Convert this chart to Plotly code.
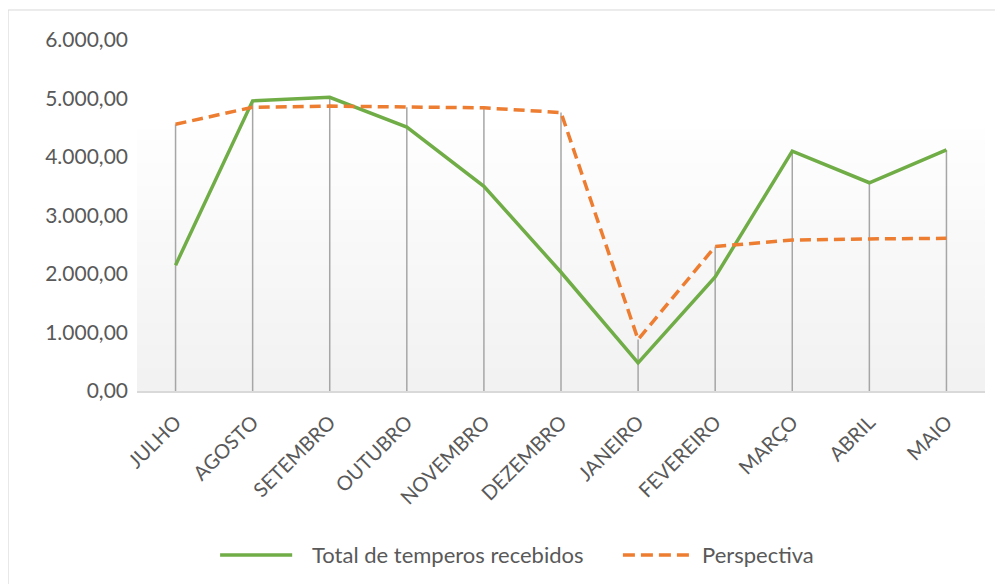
import plotly.graph_objects as go

meses = ['JULHO', 'AGOSTO', 'SETEMBRO', 'OUTUBRO', 'NOVEMBRO', 'DEZEMBRO',
         'JANEIRO', 'FEVEREIRO', 'MARÇO', 'ABRIL', 'MAIO']
total_recebidos = [2150, 4960, 5020, 4510, 3500, 2030, 480, 1950, 4100, 3560, 4120]
perspectiva = [4560, 4850, 4870, 4850, 4840, 4760, 880, 2470, 2580, 2600, 2610]

nome_total = 'Total de temperos recebidos'
nome_persp = 'Perspectiva'
verde = '#70ad47'
laranja = '#ed7d31'

fig = go.Figure()

# drop lines from the highest point down to the axis
drop_x, drop_y = [], []
for m, a, b in zip(meses, total_recebidos, perspectiva):
    drop_x += [m, m, None]
    drop_y += [0, max(a, b), None]
fig.add_trace(go.Scatter(x=drop_x, y=drop_y, mode='lines',
                         line=dict(color='#a6a6a6', width=1.5),
                         showlegend=False, hoverinfo='skip'))

fig.add_trace(go.Scatter(x=meses, y=total_recebidos, mode='lines',
                         name=nome_total, showlegend=False,
                         line=dict(color=verde, width=3.5)))
fig.add_trace(go.Scatter(x=meses, y=perspectiva, mode='lines',
                         name=nome_persp, showlegend=False,
                         line=dict(color=laranja, width=3.5, dash='11px,6px')))

# plot area gradient (white at top to light gray at bottom)
shapes = []
n = 24
for i in range(n):
    t = i / (n - 1)
    c = int(242 + (255 - 242) * t)
    shapes.append(dict(type='rect', xref='x domain', yref='y domain',
                       x0=0, x1=1, y0=i * 0.78 / n, y1=(i + 1) * 0.78 / n + 0.002,
                       fillcolor=f'rgb({c},{c},{c})', line_width=0, layer='below'))
# chart border
shapes.append(dict(type='rect', xref='paper', yref='paper',
                   x0=-0.152, x1=1.05, y0=-0.6, y1=1.0855,
                   line=dict(color='#d9d9d9', width=1), fillcolor='rgba(0,0,0,0)'))

# legend drawn by hand (Excel style, long samples)
ly = -0.467
shapes.append(dict(type='line', xref='paper', yref='paper', x0=0.098, x1=0.183,
                   y0=ly, y1=ly, line=dict(color=verde, width=3.5)))
shapes.append(dict(type='line', xref='paper', yref='paper', x0=0.573, x1=0.652,
                   y0=ly, y1=ly, line=dict(color=laranja, width=3.5, dash='12px,6px')))
annotations = [
    dict(text=nome_total, xref='paper', yref='paper', x=0.204, y=ly,
         xanchor='left', yanchor='middle', showarrow=False,
         font=dict(size=22, color='#595959')),
    dict(text=nome_persp, xref='paper', yref='paper', x=0.664, y=ly,
         xanchor='left', yanchor='middle', showarrow=False,
         font=dict(size=22, color='#595959')),
]

fig.update_layout(
    width=1003, height=584,
    margin=dict(l=129, r=26, t=32, b=201),
    paper_bgcolor='white', plot_bgcolor='white',
    separators=',.',
    font=dict(family='Lato, Open Sans, sans-serif', color='#595959'),
    shapes=shapes,
    annotations=annotations,
    showlegend=False,
    xaxis=dict(type='category', categoryorder='array', categoryarray=meses,
               range=[-0.5, 10.5], tickangle=-45, showgrid=False,
               showline=True, linecolor='#d9d9d9', linewidth=1.5,
               ticks='', ticklabelstandoff=10,
               tickfont=dict(size=20, color='#595959')),
    yaxis=dict(range=[0, 6000], dtick=1000, tickformat=',.2f', showgrid=False,
               zeroline=False, showline=False, ticks='', ticklabelstandoff=8,
               tickfont=dict(size=21, color='#595959')),
)

fig.write_html('out.html')
